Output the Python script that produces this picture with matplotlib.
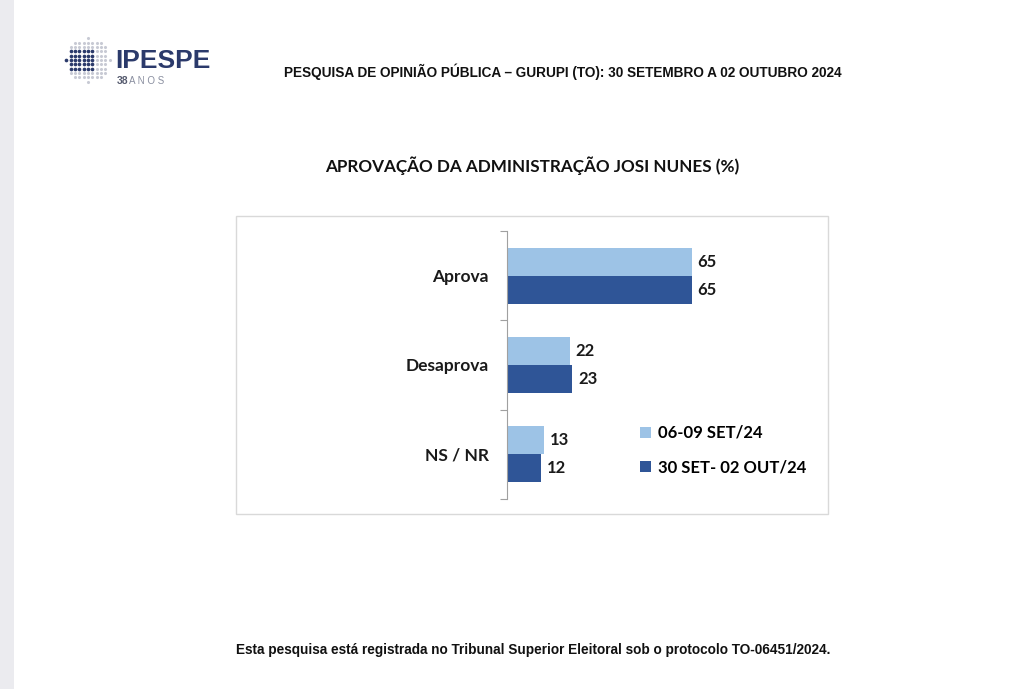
import numpy as np
import matplotlib
matplotlib.use("Agg")
import matplotlib.pyplot as plt
from matplotlib.patches import Rectangle, Patch

# dados
categorias = ["Aprova", "Desaprova", "NS / NR"]
serie_set = [65, 22, 13]
serie_out = [65, 23, 12]
legendas = ["06-09 SET/24", "30 SET- 02 OUT/24"]

cor_clara = "#9dc3e6"
cor_escura = "#2f5597"
azul_logo = "#2b3a6b"

W, H = 1024, 689
fig = plt.figure(figsize=(W / 100, H / 100), dpi=100)
fig.patch.set_facecolor("white")

def fx(px):
    return px / W

def fy(py):
    return 1 - py / H

# faixa cinza na esquerda
fig.patches.append(Rectangle((0, 0), fx(14), 1, transform=fig.transFigure,
                             facecolor="#ebebef", edgecolor="none", zorder=-2))

# caixa do grafico
fig.patches.append(Rectangle((fx(236), fy(514)), fx(828 - 236), (514 - 216) / H,
                             transform=fig.transFigure, facecolor="white",
                             edgecolor="#d9d9d9", linewidth=1, zorder=-1))

ax = fig.add_axes([fx(507), fy(499), fx(284.6), (499 - 231) / H])
ax.set_facecolor("none")

y = np.arange(len(categorias))
h = 0.315
ax.barh(y - h / 2, serie_set, height=h, color=cor_clara, label=legendas[0])
ax.barh(y + h / 2, serie_out, height=h, color=cor_escura, label=legendas[1])

fonte = ["Lato", "DejaVu Sans"]
for i in range(len(categorias)):
    ax.text(serie_set[i] + 2, y[i] - h / 2, str(serie_set[i]), va="center", ha="left",
            fontsize=12, fontweight="bold", family=fonte, color="#1a1a1a")
    ax.text(serie_out[i] + 2, y[i] + h / 2, str(serie_out[i]), va="center", ha="left",
            fontsize=12, fontweight="bold", family=fonte, color="#1a1a1a")

ax.set_xlim(0, 100)
ax.set_ylim(2.5, -0.5)
ax.set_xticks([])
ax.set_yticks([-0.5, 0.5, 1.5, 2.5])
ax.set_yticklabels([])
ax.tick_params(axis="y", which="major", length=5, color="#a0a0a0", direction="out")
ax.set_yticks(y, minor=True)
ax.set_yticklabels(categorias, minor=True, fontsize=12.5, fontweight="bold", family=fonte,
                   color="#1a1a1a")
ax.tick_params(axis="y", which="minor", length=0, pad=13)
for s in ["top", "right", "bottom"]:
    ax.spines[s].set_visible(False)
ax.spines["left"].set_color("#a0a0a0")

handles = [Patch(facecolor=cor_clara), Patch(facecolor=cor_escura)]
fig.legend(handles, legendas, loc="upper left", bbox_to_anchor=(fx(625), fy(410)),
           frameon=False, handlelength=0.65, handleheight=0.65, handletextpad=0.4,
           labelspacing=1.1, prop={"family": fonte, "weight": "bold", "size": 12})

# textos
fig.text(fx(563), fy(72), "PESQUISA DE OPINIÃO PÚBLICA – GURUPI (TO): 30 SETEMBRO A 02 OUTUBRO 2024",
         ha="center", va="center", fontsize=9.8, fontweight="bold",
         family=["Liberation Sans", "DejaVu Sans"], color="#111111")
fig.text(fx(532), fy(166), "APROVAÇÃO DA ADMINISTRAÇÃO JOSI NUNES (%)",
         ha="center", va="center", fontsize=12.3, fontweight="bold", family=fonte,
         color="#111111")
fig.text(fx(533), fy(650),
         "Esta pesquisa está registrada no Tribunal Superior Eleitoral sob o protocolo TO-06451/2024.",
         ha="center", va="center", fontsize=9.8, fontweight="bold",
         family=["Liberation Sans Narrow", "Liberation Sans"], color="#111111")

# logo
fig.text(fx(115), fy(61), "IPESPE", ha="left", va="center", fontsize=19, fontweight="bold",
         family=["Liberation Sans", "DejaVu Sans"], color=azul_logo)
fig.text(fx(117), fy(81), "38", ha="left", va="center", fontsize=7.5, fontweight="bold",
         family=["Liberation Sans", "DejaVu Sans"], color="#555a6e")
fig.text(fx(129), fy(81), "A N O S", ha="left", va="center", fontsize=7,
         family=["Liberation Sans", "DejaVu Sans"], color="#8a8fa0")

lax = fig.add_axes([fx(64), fy(84), fx(48), 48 / H])
lax.set_xlim(-1.1, 1.1)
lax.set_ylim(-1.1, 1.1)
lax.axis("off")
gx, gy = np.meshgrid(np.linspace(-1, 1, 11), np.linspace(-1, 1, 11))
gx, gy = gx.ravel(), gy.ravel()
dentro = gx ** 2 + gy ** 2 <= 1.02
escuro = dentro & (gx < 0.35) & (np.abs(gy) <= 0.55 - 0.3 * np.maximum(gx - 0.1, 0) * 2)
lax.scatter(gx[dentro & ~escuro], gy[dentro & ~escuro], s=5, color="#c8cad4", lw=0)
lax.scatter(gx[escuro], gy[escuro], s=7, color=azul_logo, lw=0)

fig.savefig("out.png", dpi=100)
